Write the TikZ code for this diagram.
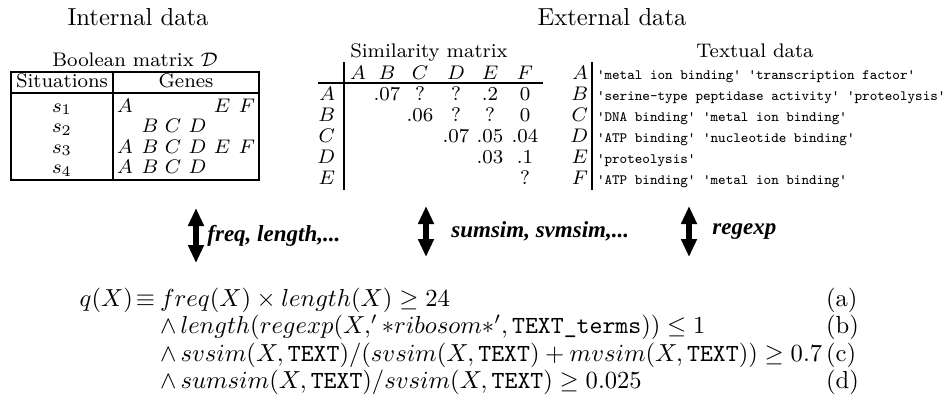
\documentclass[tikz,border=0pt]{standalone}
\usepackage{fontspec}
\usepackage{amssymb}
\newfontfamily\arrowfont{Liberation Serif}
\usetikzlibrary{arrows.meta}
\newcommand{\myq}{\textquotesingle}
\tikzset{
  basetxt/.style={inner sep=0pt, outer sep=0pt, scale=1.23, transform shape},
  ttl/.style={basetxt, font=\normalsize, anchor=base},
  sm/.style={basetxt, font=\footnotesize, anchor=base},
  rowlbl/.style={basetxt, font=\footnotesize, anchor=base east},
  ttxt/.style={basetxt, font=\fontsize{5.8}{7}\selectfont\ttfamily, anchor=base west},
  frm/.style={basetxt, font=\normalsize, anchor=base west},
  lbl/.style={inner sep=0pt, anchor=west, font=\fontsize{11.5}{13}\selectfont\arrowfont\bfseries\itshape},
  rulel/.style={line width=1pt},
  dblarrow/.style={line width=3pt, {Triangle[width=7.5pt,length=9pt]}-{Triangle[width=7.5pt,length=9pt]}}
}
\begin{document}
\begin{tikzpicture}[x=0.5pt,y=-0.5pt]
\path[fill=white] (0,0) rectangle (946,409);
\useasboundingbox (0,0) rectangle (946,409);

% titles
\node[ttl] (intt) at (138,25.5) {Internal data};
\node[ttl] (extt) at (612,25.5) {External data};

% Boolean matrix
\node[sm] (boolt) at (135,66) {Boolean matrix $\mathcal{D}$};
\draw[rulel] (11,72) rectangle (259,180);
\draw[rulel] (113,72) -- (113,180);
\draw[rulel] (11,93) -- (259,93);
\node[sm] (sit) at (62,87.5) {Situations};
\node[sm] (gen) at (186,87.5) {Genes};
\node[sm] (s1) at (62,112) {$s_1$};
\node[sm] (s2) at (62,132.5) {$s_2$};
\node[sm] (s3) at (62,153) {$s_3$};
\node[sm] (s4) at (62,173.5) {$s_4$};
% gene letters
\node[sm] (g1a) at (125,112) {$A$};
\node[sm] (g1e) at (222,112) {$E$};
\node[sm] (g1f) at (247,112) {$F$};
\node[sm] (g2b) at (150,132.5) {$B$};
\node[sm] (g2c) at (173,132.5) {$C$};
\node[sm] (g2d) at (197.5,132.5) {$D$};
\node[sm] (g3a) at (125,153) {$A$};
\node[sm] (g3b) at (150,153) {$B$};
\node[sm] (g3c) at (173,153) {$C$};
\node[sm] (g3d) at (197.5,153) {$D$};
\node[sm] (g3e) at (222,153) {$E$};
\node[sm] (g3f) at (247,153) {$F$};
\node[sm] (g4a) at (125,173.5) {$A$};
\node[sm] (g4b) at (150,173.5) {$B$};
\node[sm] (g4c) at (173,173.5) {$C$};
\node[sm] (g4d) at (197.5,173.5) {$D$};

% Similarity matrix
\node[sm] (simt) at (429,57) {Similarity matrix};
\draw[rulel] (344,62) -- (344,190);
\draw[rulel] (318,83) -- (543,83);
\node[sm] (hA) at (358,79) {$A$};
\node[sm] (hB) at (387,79) {$B$};
\node[sm] (hC) at (420,79) {$C$};
\node[sm] (hD) at (456,79) {$D$};
\node[sm] (hE) at (490,79) {$E$};
\node[sm] (hF) at (525,79) {$F$};
\node[rowlbl] (rA) at (335,100) {$A$};
\node[rowlbl] (rB) at (335,121) {$B$};
\node[rowlbl] (rC) at (335,142) {$C$};
\node[rowlbl] (rD) at (335,163) {$D$};
\node[rowlbl] (rE) at (335,184) {$E$};
\node[sm] (vAB) at (387,100) {.07};
\node[sm] (vAC) at (420,100) {?};
\node[sm] (vAD) at (456,100) {?};
\node[sm] (vAE) at (490,100) {.2};
\node[sm] (vAF) at (525,100) {0};
\node[sm] (vBC) at (420,121) {.06};
\node[sm] (vBD) at (456,121) {?};
\node[sm] (vBE) at (490,121) {?};
\node[sm] (vBF) at (525,121) {0};
\node[sm] (vCD) at (456,142) {.07};
\node[sm] (vCE) at (490,142) {.05};
\node[sm] (vCF) at (525,142) {.04};
\node[sm] (vDE) at (490,163) {.03};
\node[sm] (vDF) at (525,163) {.1};
\node[sm] (vEF) at (525,184) {?};

% Textual data
\node[sm] (txtt) at (755,57) {Textual data};
\draw[rulel] (592,62) -- (592,190);
\node[rowlbl] (tA) at (588,79) {$A$};
\node[rowlbl] (tB) at (588,100) {$B$};
\node[rowlbl] (tC) at (588,121) {$C$};
\node[rowlbl] (tD) at (588,142) {$D$};
\node[rowlbl] (tE) at (588,163) {$E$};
\node[rowlbl] (tF) at (588,184) {$F$};
\node[ttxt] (xA) at (597,79) {\myq metal ion binding\myq{} \myq transcription factor\myq};
\node[ttxt] (xB) at (597,100) {\myq serine-type peptidase activity\myq{} \myq proteolysis\myq};
\node[ttxt] (xC) at (597,121) {\myq DNA binding\myq{} \myq metal ion binding\myq};
\node[ttxt] (xD) at (597,142) {\myq ATP binding\myq{} \myq nucleotide binding\myq};
\node[ttxt] (xE) at (597,163) {\myq proteolysis\myq};
\node[ttxt] (xF) at (597,184) {\myq ATP binding\myq{} \myq metal ion binding\myq};

% arrows
\coordinate (a1t) at (196,208);
\coordinate (a1b) at (196,263);
\coordinate (a2t) at (426,206);
\coordinate (a2b) at (426,257);
\coordinate (a3t) at (689,206);
\coordinate (a3b) at (689,257);
\draw[dblarrow] (a1t) -- (a1b);
\draw[dblarrow] (a2t) -- (a2b);
\draw[dblarrow] (a3t) -- (a3b);
\node[lbl] (l1) at (207,235.5) {freq, length,...};
\node[lbl] (l2) at (451,231.5) {sumsim, svmsim,...};
\node[lbl] (l3) at (712,231.5) {regexp};

% formula
\node[basetxt, font=\normalsize, anchor=base east] (qx) at (133,306) {$q(X)$};
\node[basetxt, font=\normalsize, anchor=base] (eqv) at (145.5,306) {$\equiv$};
\node[frm] (la) at (160,306) {$freq(X)\times length(X)\geq 24$};
\node[frm] (lb) at (160,333.5) {$\wedge\,length(regexp(X,'*ribosom*',\texttt{TEXT\_terms}))\leq 1$};
\node[frm] (lc) at (160,361) {$\wedge\,svsim(X,\texttt{TEXT})/(svsim(X,\texttt{TEXT})+mvsim(X,\texttt{TEXT}))\geq 0.7$};
\node[frm] (ld) at (160,388.5) {$\wedge\,sumsim(X,\texttt{TEXT})/svsim(X,\texttt{TEXT})\geq 0.025$};
\node[frm] (ta) at (826,306) {(a)};
\node[frm] (tb) at (826,333.5) {(b)};
\node[frm] (tc) at (826,361) {(c)};
\node[frm] (td) at (826,388.5) {(d)};
\end{tikzpicture}
\end{document}
